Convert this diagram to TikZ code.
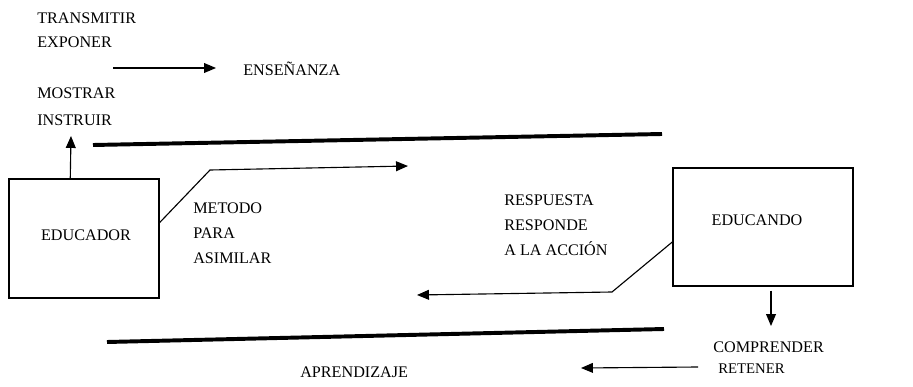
\documentclass[tikz,border=0pt]{standalone}
\usepackage{fontspec}
\setmainfont{Liberation Serif}
\usetikzlibrary{arrows.meta, calc}

\begin{document}
\begin{tikzpicture}[x=0.025cm, y=-0.025cm,
        txt/.style={anchor=base west, inner sep=0pt, font=\fontsize{11.5}{13}\selectfont},
        box/.style={draw, line width=1pt, rectangle, inner sep=0pt},
        link/.style={line width=0.8pt, -{Triangle[length=8.5pt,width=7pt]}},
        bar/.style={line width=2.8pt}]
        \useasboundingbox (0,0) rectangle (913,387);

        % teaching side
        \node[txt] (transmitir) at (37,24) {TRANSMITIR};
        \node[txt] (exponer) at (37,48) {EXPONER};
        \node[txt] (ensenanza) at (243,75) {ENSEÑANZA};
        \node[txt] (mostrar) at (37,99) {MOSTRAR};
        \node[txt] (instruir) at (37,126) {INSTRUIR};

        \node[box, minimum width=3.75cm, minimum height=2.975cm] (educador) at (84,238.5) {};
        \node[txt, anchor=base] (educadorlbl) at (86,240) {EDUCADOR};
        \node[box, minimum width=4.5cm, minimum height=2.95cm] (educando) at (763,227) {};
        \node[txt, anchor=base] (educandolbl) at (757,225) {EDUCANDO};

        \node[txt] (metodo) at (193,213) {METODO};
        \node[txt] (para) at (193,238) {PARA};
        \node[txt] (asimilar) at (193,263) {ASIMILAR};

        \node[txt] (respuesta) at (504,205) {RESPUESTA};
        \node[txt] (responde) at (504,230) {RESPONDE};
        \node[txt] (accion) at (504,255) {A LA ACCIÓN};

        \node[txt] (comprender) at (713,352) {COMPRENDER};
        \node[txt, font=\fontsize{10.5}{12}\selectfont] (retener) at (718,373) {RETENER};
        \node[txt] (aprendizaje) at (300,377) {APRENDIZAJE};

        \coordinate (e1) at (113,68);
        \coordinate (e2) at (216,68);
        \coordinate (up) at (71,136);
        \coordinate (m1) at (210,170);
        \coordinate (m2) at (408,166);
        \coordinate (r1) at (612,292);
        \coordinate (r2) at (417,295);
        \coordinate (dn) at (771,326);
        \coordinate (t1) at (698,367);
        \coordinate (t2) at (581,368);

        \draw[bar] (93,145) -- (662,134);
        \draw[bar] (107,342) -- (664,329);

        \draw[link] (e1) -- (e2);
        \draw[link] ($(educador.north west)+(62,0)$) -- (up);
        \draw[link] ($(educador.east)+(0,-16)$) -- (m1) -- (m2);
        \draw[link] ($(educando.west)+(0,15)$) -- (r1) -- (r2);
        \draw[link] ($(educando.south)+(8,4)$) -- (dn);
        \draw[link] (t1) -- (t2);

\end{tikzpicture}
\end{document}
